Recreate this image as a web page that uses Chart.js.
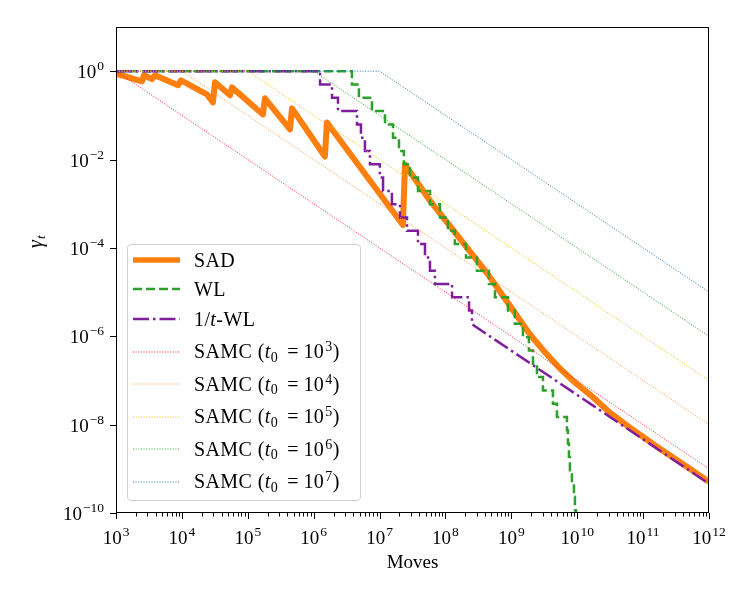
<!DOCTYPE html>
<html>
<head>
<meta charset="utf-8">
<script src="https://cdn.jsdelivr.net/npm/chart.js@4.4.0/dist/chart.umd.min.js"></script>
<style>
  html, body { margin: 0; padding: 0; background: #fff; }
  #wrap { position: relative; width: 750px; height: 600px; }
  #legend {
    position: absolute; left: 127px; top: 244px; width: 232px; height: 255px;
    border: 1px solid #d0d0d0; border-radius: 4px; background: rgba(255,255,255,0.8);
    font-family: "Liberation Serif", serif; font-size: 20px; color: #000;
  }
  .row { position: absolute; left: 5px; height: 24px; display: flex; align-items: center; white-space: nowrap; letter-spacing: 0.4px; }
  .row svg { width: 47px; height: 10px; margin-right: 14px; }
  .row sup, .row sub { font-size: 70%; vertical-align: 0; position: relative; }
  .row sup { top: -0.5em; margin-left: 1px; }
  .row sub { top: 0.25em; }
  .row .eq { margin: 0 5px 0 9px; letter-spacing: 0; }
</style>
</head>
<body>
<div id="wrap">
  <canvas id="chart" width="750" height="600"></canvas>
  <div id="legend"></div>
</div>
<script>
// axis ticks
const xTicks = [1e3, 1e4, 1e5, 1e6, 1e7, 1e8, 1e9, 1e10, 1e11, 1e12];
const yTicks = [1e-10, 1e-8, 1e-6, 1e-4, 1e-2, 1e0];

// SAD
const sadMoves = [1e3, 2.48e3, 2.66e3, 3.52e3, 3.91e3, 8.73e3, 9.69e3, 2.40e4, 2.96e4, 3.18e4,
  5.37e4, 5.75e4, 1.70e5, 1.82e5, 4.37e5, 4.69e5, 1.48e6, 1.59e6, 2.26e7, 2.43e7,
  5.82e7, 4.27e8, 1.91e9, 3.24e9, 5.46e9, 9.23e9, 1.56e10, 3.14e10, 6.31e10, 1.80e11,
  5.13e11, 1e12];
const sadGamma = [0.88, 0.59, 0.81, 0.66, 0.81, 0.48, 0.62, 0.30, 0.197, 0.56,
  0.285, 0.43, 0.105, 0.243, 0.048, 0.144, 0.0117, 0.069, 3.3e-4, 7.7e-3,
  1.17e-3, 2.7e-5, 1.11e-6, 4.33e-7, 1.87e-7, 9.0e-8, 4.8e-8, 1.87e-8, 8.5e-9, 2.85e-9,
  1.0e-9, 5.07e-10];

// WL: moves where gamma drops, and gamma after each drop
const wlStart = 1.0;
const wlDropMoves = [3.81e6, 4.86e6, 7.67e6, 1.21e7, 1.60e7, 1.97e7, 2.34e7, 2.89e7, 3.83e7, 5.82e7,
  8.26e7, 1.09e8, 1.39e8, 2.05e8, 3.01e8, 4.57e8, 5.64e8, 8.87e8, 1.13e9, 1.50e9,
  1.85e9, 2.13e9, 2.45e9, 3.02e9, 4.28e9, 4.92e9, 6.98e9, 7.23e9, 7.49e9, 7.75e9,
  8.31e9, 8.92e9, 9.23e9, 9.56e9, 9.90e9];
const wlGamma = [0.5, 0.25, 0.125, 6.25e-2, 3.13e-2, 1.56e-2, 7.81e-3, 3.91e-3, 1.95e-3, 9.77e-4,
  4.88e-4, 2.44e-4, 1.22e-4, 6.10e-5, 3.05e-5, 1.53e-5, 7.63e-6, 3.81e-6, 1.91e-6, 9.54e-7,
  4.77e-7, 2.38e-7, 1.19e-7, 5.96e-8, 2.98e-8, 1.49e-8, 7.45e-9, 3.73e-9, 1.86e-9, 9.31e-10,
  4.66e-10, 2.33e-10, 1.16e-10, 5.82e-11, 2.91e-11];

// 1/t-WL: halving steps, then the 1/t tail
const invDropMoves = [1.25e6, 1.90e6, 2.34e6, 4.54e6, 5.22e6, 6.00e6, 7.15e6, 1.01e7, 1.13e7, 1.54e7,
  2.04e7, 2.61e7, 3.83e7, 4.89e7, 5.82e7, 6.93e7, 1.26e8, 2.28e8, 2.53e8];
const invGamma = [0.5, 0.25, 0.125, 6.25e-2, 3.13e-2, 1.56e-2, 7.81e-3, 3.91e-3, 1.95e-3, 9.77e-4,
  4.88e-4, 2.44e-4, 1.22e-4, 6.10e-5, 3.05e-5, 1.53e-5, 7.63e-6, 3.81e-6, 1.91e-6];
const invTailMoves = [2.7e8, 1e10, 1e12];
const invTailGamma = [1.75e-6, 4.7e-8, 4.6e-10];

// SAMC reference lines
const samcT0 = [1e3, 1e4, 1e5, 1e6, 1e7];
const samcEnd = [1e-9, 1e-8, 1e-7, 1e-6, 1e-5];
const samcColors = ['#ff1f1f', '#ff9340', '#e0bd00', '#2ca02c', '#1f77b4'];

const sadColor = '#ff7f0e', wlColor = '#2ca02c', invColor = '#7e1e9c';
const serif = '"Liberation Serif", serif';

function steps(start, t, g) {
  const pts = [{ x: 1e3, y: start }];
  let prev = start;
  t.forEach((v, i) => { pts.push({ x: v, y: prev }, { x: v, y: g[i] }); prev = g[i]; });
  return pts;
}

const invPts = steps(1.0, invDropMoves, invGamma)
  .concat(invTailMoves.map((x, i) => ({ x, y: invTailGamma[i] })));

const datasets = [
  { label: 'SAD', data: sadMoves.map((x, i) => ({ x, y: sadGamma[i] })),
    borderColor: sadColor, borderWidth: 6, borderJoinStyle: 'round', order: 3 },
  { label: 'WL', data: steps(wlStart, wlDropMoves, wlGamma),
    borderColor: wlColor, borderWidth: 2.5, borderDash: [9, 4], order: 2 },
  { label: '1/t-WL', data: invPts,
    borderColor: invColor, borderWidth: 2.5, borderDash: [16, 4, 2.5, 4], order: 1 }
].concat(samcT0.map((t0, i) => ({
  label: 'SAMC ' + t0, data: [{ x: 1e3, y: 1 }, { x: t0, y: 1 }, { x: 1e12, y: samcEnd[i] }],
  borderColor: samcColors[i], borderWidth: 1, borderDash: [1, 1.65], order: 0
})));
datasets.forEach(d => { d.pointRadius = 0; d.fill = false; d.tension = 0; });

const xMinor = [];
xTicks.slice(0, -1).forEach(d => { for (let m = 2; m < 10; m++) xMinor.push(d * m); });

// "10" with a raised exponent, like the mathtext labels
function drawPow(ctx, v, x, baseY, align) {
  const e = String(Math.round(Math.log10(v))).replace('-', '\u2212');
  ctx.font = '19px ' + serif;
  const wb = ctx.measureText('10').width;
  ctx.font = '13.5px ' + serif;
  const we = ctx.measureText(e).width;
  const total = wb + 1 + we;
  const left = align === 'center' ? x - total / 2 : x - total;
  ctx.font = '19px ' + serif;
  ctx.fillText('10', left, baseY);
  ctx.font = '13.5px ' + serif;
  ctx.fillText(e, left + wb + 1, baseY - 8);
}

const framePlugin = {
  id: 'frame',
  afterDraw(chart) {
    const { ctx, chartArea: a, scales: { x, y } } = chart;
    ctx.save();
    ctx.strokeStyle = '#000';
    ctx.lineWidth = 1;
    ctx.strokeRect(a.left + 0.5, a.top + 0.5, a.right - a.left - 1, a.bottom - a.top - 1);
    ctx.beginPath();
    xTicks.forEach(v => { const p = Math.round(x.getPixelForValue(v)) + 0.5; ctx.moveTo(p, a.bottom); ctx.lineTo(p, a.bottom + 6); });
    xMinor.forEach(v => { const p = Math.round(x.getPixelForValue(v)) + 0.5; ctx.moveTo(p, a.bottom); ctx.lineTo(p, a.bottom + 3.5); });
    yTicks.forEach(v => { const p = Math.round(y.getPixelForValue(v)) + 0.5; ctx.moveTo(a.left, p); ctx.lineTo(a.left - 6, p); });
    ctx.stroke();

    ctx.fillStyle = '#000';
    ctx.textBaseline = 'alphabetic';
    ctx.textAlign = 'left';
    xTicks.forEach(v => drawPow(ctx, v, x.getPixelForValue(v), a.bottom + 31, 'center'));
    yTicks.forEach(v => drawPow(ctx, v, a.left - 12, y.getPixelForValue(v) + 7, 'right'));

    // y title: gamma_t
    ctx.translate(37, 240);
    ctx.rotate(-Math.PI / 2);
    ctx.font = 'italic 20px ' + serif;
    ctx.fillText('γ', -8, 5);
    ctx.font = 'italic 13px ' + serif;
    ctx.fillText('t', 1, 8);
    ctx.restore();
  }
};

new Chart(document.getElementById('chart'), {
  type: 'line',
  data: { datasets },
  options: {
    responsive: false,
    animation: false,
    layout: { padding: { left: 0, top: 27, right: 41, bottom: 0 } },
    plugins: { legend: { display: false }, tooltip: { enabled: false } },
    scales: {
      x: {
        type: 'logarithmic', min: 1e3, max: 1e12,
        border: { display: false },
        grid: { display: false, drawTicks: false },
        afterBuildTicks: s => { s.ticks = xTicks.map(v => ({ value: v })); },
        afterFit: s => { s.height = 87; },
        ticks: { display: false },
        title: { display: true, text: 'Moves', color: '#000', font: { family: serif, size: 19 },
          padding: { top: 0, bottom: 26 } }
      },
      y: {
        type: 'logarithmic', min: 1e-10, max: 1e1,
        border: { display: false },
        grid: { display: false, drawTicks: false },
        afterBuildTicks: s => { s.ticks = yTicks.map(v => ({ value: v })); },
        afterFit: s => { s.width = 116; },
        ticks: { display: false }
      }
    }
  },
  plugins: [framePlugin]
});

// legend
const legendRows = [
  { html: 'SAD', color: sadColor, w: 5.5, dash: '' },
  { html: 'WL', color: wlColor, w: 2.5, dash: '9 4' },
  { html: '1/<i>t</i>-WL', color: invColor, w: 2.5, dash: '16 4 2.5 4' }
].concat(samcT0.map((t0, i) => ({
  html: 'SAMC (<i>t</i><sub>0</sub><span class="eq">=</span>10<sup>' + Math.round(Math.log10(t0)) + '</sup>)',
  color: samcColors[i], w: 1, dash: '1 1.65'
})));
const rowCenters = [15, 44.3, 74.3, 106.7, 139.3, 171.7, 204.3, 236.7];
document.getElementById('legend').innerHTML = legendRows.map((r, i) =>
  `<div class="row" style="top:${rowCenters[i] - 12}px"><svg><line x1="0" y1="5" x2="47" y2="5" stroke="${r.color}" stroke-width="${r.w}" stroke-dasharray="${r.dash}"/></svg><span>${r.html}</span></div>`
).join('');
</script>
</body>
</html>
